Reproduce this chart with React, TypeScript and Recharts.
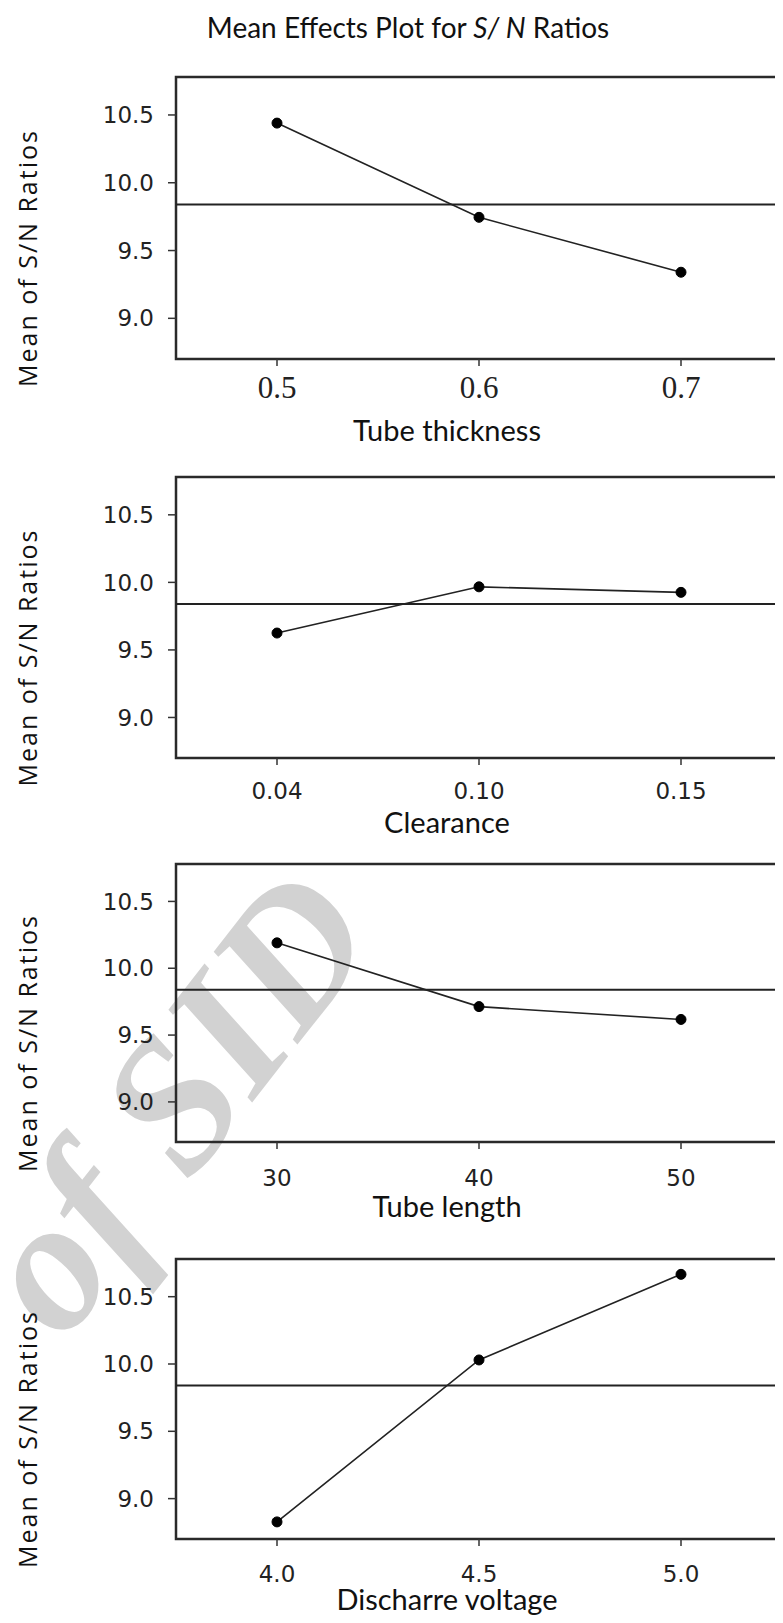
import React from "react";
import { LineChart, Line, XAxis, YAxis, ReferenceLine, ReferenceArea } from "recharts";

// factor levels (tick labels) and mean S/N ratio per level
const thicknessLevels = ["0.5", "0.6", "0.7"];
const thicknessSN = [10.44, 9.745, 9.34];

const clearanceLevels = ["0.04", "0.10", "0.15"];
const clearanceSN = [9.625, 9.967, 9.926];

const lengthLevels = ["30", "40", "50"];
const lengthSN = [10.19, 9.713, 9.617];

const voltageLevels = ["4.0", "4.5", "5.0"];
const voltageSN = [8.827, 10.03, 10.666];

const GRAND_MEAN = 9.84;
const yTicks = [9.0, 9.5, 10.0, 10.5];
const yDomain: [number, number] = [8.7, 10.78];

const W = 783;
const PLOT_LEFT = 176;
const INK = "#222";

type PanelProps = {
  top: number;
  boxH: number;
  levels: string[];
  means: number[];
  xTitle: string;
  serifTicks?: boolean;
  tickDy: number;
  titleBase: number;
};

function EffectPanel({ top, boxH, levels, means, xTitle, serifTicks, tickDy, titleBase }: PanelProps) {
  const data = levels.map((lvl, i) => ({ x: i, level: lvl, sn: means[i] }));
  const H = boxH + 100;
  const bottom = 2 + boxH;

  const XTick = (props: any) => {
    const { x, y, payload } = props;
    return (
      <text
        x={x}
        y={y + tickDy}
        textAnchor="middle"
        dominantBaseline="central"
        fill={INK}
        fontFamily={serifTicks ? "Liberation Serif, serif" : "DejaVu Sans, sans-serif"}
        fontSize={serifTicks ? 31 : 23}
      >
        {levels[payload.value]}
      </text>
    );
  };

  return (
    <div style={{ position: "absolute", left: 0, top: top - 2 }}>
      <LineChart width={W} height={H} data={data} margin={{ top: 2, right: 1, bottom: 0, left: 0 }}>
        <XAxis
          type="number"
          dataKey="x"
          domain={[-0.5, 2.5]}
          ticks={[0, 1, 2]}
          axisLine={false}
          tickSize={7}
          tickLine={{ stroke: "#333", strokeWidth: 1.5 }}
          height={98}
          tick={<XTick />}
          label={{
            content: () => (
              <text
                x={447}
                y={bottom + titleBase}
                textAnchor="middle"
                fontFamily="Lato, sans-serif"
                fontSize={29}
                fill="#111"
              >
                {xTitle}
              </text>
            ),
          }}
        />
        <YAxis
          type="number"
          domain={yDomain}
          ticks={yTicks}
          allowDataOverflow
          width={PLOT_LEFT}
          axisLine={false}
          tickSize={8}
          tickMargin={14}
          tickLine={{ stroke: "#333", strokeWidth: 1.5 }}
          tickFormatter={(v: number) => v.toFixed(1)}
          tick={{ fontFamily: "DejaVu Sans, sans-serif", fontSize: 23, fill: INK }}
          label={{
            content: () => {
              const cy = 2 + boxH / 2 + 40;
              return (
                <text
                  x={27}
                  y={cy}
                  transform={`rotate(-90, 27, ${cy})`}
                  textAnchor="middle"
                  dominantBaseline="central"
                  fontFamily="Open Sans, sans-serif"
                  fontSize={25}
                  letterSpacing={2}
                  fill="#111"
                >
                  Mean of S/N Ratios
                </text>
              );
            },
          }}
        />
        <ReferenceArea
          x1={-0.5}
          x2={2.5}
          y1={yDomain[0]}
          y2={yDomain[1]}
          fill="none"
          fillOpacity={0}
          stroke="#2a2a2a"
          strokeWidth={2.5}
          ifOverflow="visible"
        />
        <ReferenceLine y={GRAND_MEAN} stroke={INK} strokeWidth={2} />
        <Line
          type="linear"
          dataKey="sn"
          stroke={INK}
          strokeWidth={1.6}
          dot={{ r: 5, fill: "#000", stroke: "#000", strokeWidth: 1 }}
          isAnimationActive={false}
        />
      </LineChart>
    </div>
  );
}

export default function App() {
  return (
    <div
      style={{
        position: "relative",
        width: W,
        height: 1623,
        margin: -8,
        background: "#fff",
        overflow: "hidden",
      }}
    >
      {/* watermark behind everything */}
      <svg width={W} height={1623} style={{ position: "absolute", left: 0, top: 0 }}>
        <text
          transform="translate(276,1072) rotate(-52)"
          x={172}
          y={0}
          textAnchor="end"
          fontFamily="Liberation Serif, serif"
          fontStyle="italic"
          fontWeight="bold"
          fontSize={188}
          fill="#d2d2d2"
        >
          of SID
        </text>
      </svg>

      <svg width={W} height={60} style={{ position: "absolute", left: 0, top: 0 }}>
        <text
          x={408}
          y={38}
          textAnchor="middle"
          fontFamily="Lato, sans-serif"
          fontSize={28}
          fill="#111"
        >
          Mean Effects Plot for <tspan fontStyle="italic">S/ N</tspan> Ratios
        </text>
      </svg>

      <EffectPanel top={77} boxH={282} levels={thicknessLevels} means={thicknessSN} xTitle="Tube thickness" serifTicks tickDy={19} titleBase={82} />
      <EffectPanel top={477} boxH={281} levels={clearanceLevels} means={clearanceSN} xTitle="Clearance" tickDy={24} titleBase={75} />
      <EffectPanel top={864} boxH={278} levels={lengthLevels} means={lengthSN} xTitle="Tube length" tickDy={27} titleBase={75} />
      <EffectPanel top={1259} boxH={280} levels={voltageLevels} means={voltageSN} xTitle="Discharre voltage" tickDy={26} titleBase={71} />
    </div>
  );
}
